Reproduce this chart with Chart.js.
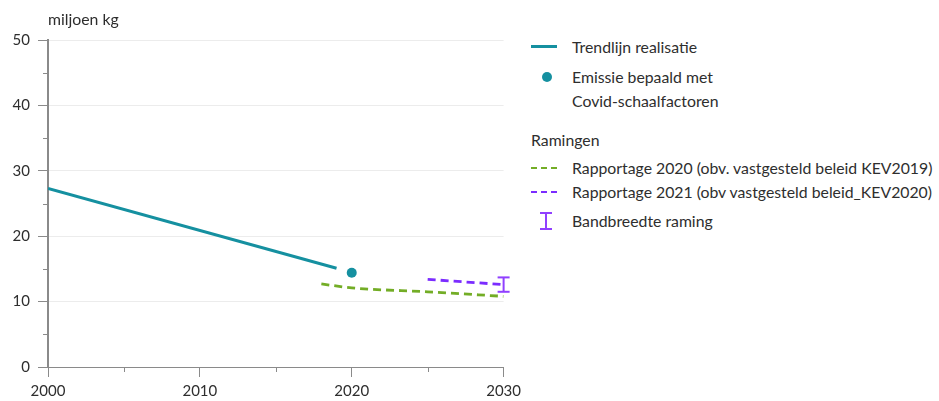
<!DOCTYPE html>
<html><head><meta charset="utf-8">
<script src="https://cdn.jsdelivr.net/npm/chart.js@4/dist/chart.umd.min.js"></script>
<style>
html,body{margin:0;padding:0;background:#fff;width:939px;height:401px;overflow:hidden;font-family:Lato,"Open Sans",sans-serif;color:#333;}
#wrap{position:absolute;left:0;top:0;width:526px;height:401px;}
.lg{position:absolute;font-size:15.8px;line-height:18px;white-space:nowrap;color:#2e2e2e;}
.sym{position:absolute;}
</style></head><body>
<div id="wrap"><canvas id="c" width="526" height="401"></canvas></div>
<div class="sym" style="left:531px;top:45px;width:26px;height:3px;background:#1590a0"></div>
<div class="lg" style="left:572px;top:38px">Trendlijn realisatie</div>
<div class="sym" style="left:542px;top:72px;width:10px;height:10px;border-radius:50%;background:#1590a0"></div>
<div class="lg" style="left:572px;top:68px">Emissie bepaald met</div>
<div class="lg" style="left:572px;top:92px">Covid-schaalfactoren</div>
<div class="lg" style="left:531px;top:131px">Ramingen</div>
<div class="sym" style="left:531px;top:167px;width:26px;height:0;border-top:2.5px dashed #73ad26"></div>
<div class="lg" style="left:572px;top:159px">Rapportage 2020 (obv. vastgesteld beleid KEV2019)</div>
<div class="sym" style="left:531px;top:191px;width:26px;height:0;border-top:2.5px dashed #7b2cff"></div>
<div class="lg" style="left:572px;top:183px">Rapportage 2021 (obv vastgesteld beleid_KEV2020)</div>
<div class="sym" style="left:540px;top:212px;width:12px;height:18px;">
  <div style="position:absolute;left:0;top:0;width:12px;height:2px;background:#9040ff"></div>
  <div style="position:absolute;left:5px;top:0;width:2px;height:18px;background:#9040ff"></div>
  <div style="position:absolute;left:0;top:16px;width:12px;height:2px;background:#9040ff"></div>
</div>
<div class="lg" style="left:572px;top:212px">Bandbreedte raming</div>
<script>
// Data
const trendYears = [2000, 2019];
const trendValues = [27.3, 15.1];
const covidYears = [2020];
const covidValues = [14.4];
const r2020Years = [2018, 2020, 2025, 2030];
const r2020Values = [12.7, 12.1, 11.5, 10.8];
const r2021Years = [2025, 2030];
const r2021Values = [13.4, 12.6];
const bandYear = [2030];
const bandLow = [11.5];
const bandHigh = [13.7];
const xTickLabels = [2000, 2010, 2020, 2030];
const yTickLabels = [0, 10, 20, 30, 40, 50];
const yUnit = 'miljoen kg';

const pts = (xs, ys) => xs.map((x, i) => ({x, y: ys[i]}));
const bandPts = [];
bandYear.forEach((x, i) => { bandPts.push({x, y: bandLow[i]}); bandPts.push({x, y: bandHigh[i]}); });

const FONT = 'Lato';
const axisColor = '#8a8a8a';

const minorTicks = {
  id: 'minorTicks',
  afterDraw(chart) {
    const ctx = chart.ctx, xs = chart.scales.x, ys = chart.scales.y;
    ctx.save();
    ctx.strokeStyle = axisColor; ctx.lineWidth = 1;
    for (let v = 5; v < 50; v += 10) {
      const p = Math.round(ys.getPixelForValue(v)) + 0.5;
      ctx.beginPath(); ctx.moveTo(xs.left - 5, p); ctx.lineTo(xs.left, p); ctx.stroke();
    }
    for (let v = 2005; v < 2030; v += 10) {
      const p = Math.round(xs.getPixelForValue(v)) + 0.5;
      ctx.beginPath(); ctx.moveTo(p, ys.bottom); ctx.lineTo(p, ys.bottom + 5); ctx.stroke();
    }
    ctx.fillStyle = '#2e2e2e';
    ctx.font = '15.8px ' + FONT;
    ctx.textBaseline = 'alphabetic';
    ctx.textAlign = 'left';
    ctx.fillText(yUnit, xs.left, 25);
    ctx.restore();
  }
};

new Chart(document.getElementById('c'), {
  type: 'line',
  data: {
    datasets: [
      {data: pts(trendYears, trendValues), borderColor: '#1590a0', borderWidth: 3, pointRadius: 0, fill: false},
      {data: pts(covidYears, covidValues), borderColor: '#1590a0', backgroundColor: '#1590a0', showLine: false, pointRadius: 5, pointBorderWidth: 0},
      {data: pts(r2020Years, r2020Values), borderColor: '#73ad26', borderWidth: 2.8, borderDash: [8, 5], pointRadius: 0, tension: 0.3, cubicInterpolationMode: 'monotone'},
      {data: pts(r2021Years, r2021Values), borderColor: '#7b2cff', borderWidth: 2.8, borderDash: [8, 5], pointRadius: 0},
      {data: bandPts, clip: false, borderColor: '#9040ff', backgroundColor: '#9040ff', borderWidth: 2, pointStyle: 'line', pointRadius: 6, pointBorderWidth: 2, pointBorderColor: '#9040ff'}
    ]
  },
  options: {
    animation: false, responsive: false, devicePixelRatio: 1,
    layout: {padding: {top: 40, right: 9, left: 0, bottom: 0}},
    plugins: {legend: {display: false}, tooltip: {enabled: false}, title: {display: false}},
    scales: {
      x: {
        type: 'linear', min: 2000, max: 2030,
        afterBuildTicks: s => { s.ticks = xTickLabels.map(v => ({value: v})); },
        afterFit: s => { s.height = 34; },
        grid: {drawOnChartArea: false, drawTicks: true, tickLength: 10, color: axisColor},
        border: {color: axisColor, width: 1},
        ticks: {color: '#2e2e2e', font: {family: FONT, size: 15}, padding: 5, maxRotation: 0, callback: v => String(v)}
      },
      y: {
        min: 0, max: 50,
        afterBuildTicks: s => { s.ticks = yTickLabels.map(v => ({value: v})); },
        afterFit: s => { s.width = 48; },
        grid: {color: '#ececec', drawTicks: true, tickLength: 10, tickColor: axisColor, lineWidth: 1},
        border: {color: axisColor, width: 2},
        ticks: {color: '#2e2e2e', font: {family: FONT, size: 15}, padding: 8, callback: v => String(v)}
      }
    }
  },
  plugins: [minorTicks]
});
</script>
</body></html>
